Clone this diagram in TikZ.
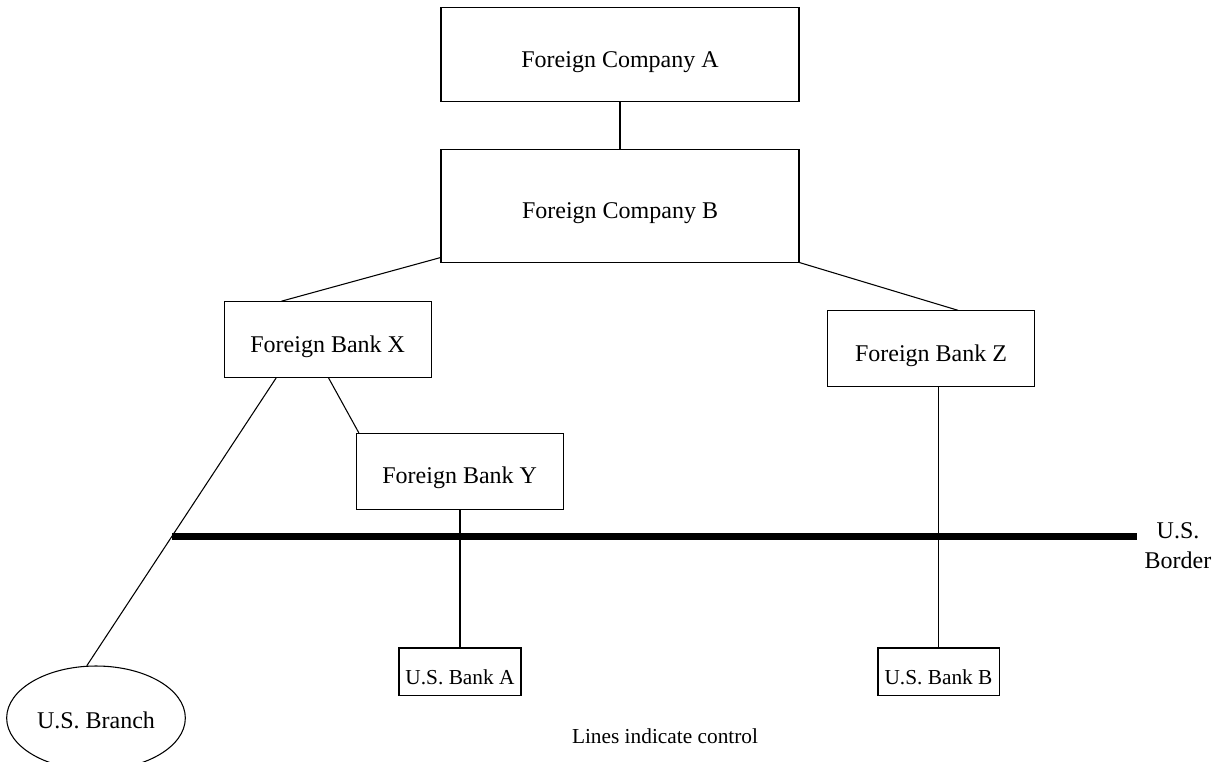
\documentclass[tikz,border=0pt]{standalone}
\usepackage{fontspec}
\setmainfont{Liberation Serif}
\usetikzlibrary{shapes.geometric,calc}

\begin{document}
\begin{tikzpicture}[x=0.75pt,y=-0.75pt,
  link/.style={draw=black,line width=0.8pt},
  entity/.style={draw=black,line width=0.8pt,rectangle,inner sep=0pt,
    font=\fontsize{18}{21.6}\selectfont,text height=19pt,text depth=0pt},
  usbank/.style={entity,font=\fontsize{16}{19.2}\selectfont},
  branchnode/.style={draw=black,line width=0.8pt,ellipse,inner sep=0pt,
    font=\fontsize{18}{21.6}\selectfont,text height=15pt,text depth=0pt},
  note/.style={inner sep=0pt,anchor=base}
]
\useasboundingbox (0,0) rectangle (1219,761);
\clip (0,0) rectangle (1219,761);

% ownership chain
\node[entity,minimum width=268.5pt,minimum height=70.9pt] (compA) at (620,54.5) {Foreign Company A};
\node[entity,minimum width=268.5pt,minimum height=84.5pt] (compB) at (620,205.7) {Foreign Company B};
\node[entity,minimum width=155.5pt,minimum height=56.7pt] (bankX) at (327.7,339.5) {Foreign Bank X};
\node[entity,minimum width=155.5pt,minimum height=57pt] (bankY) at (459.7,471.3) {Foreign Bank Y};
\node[entity,minimum width=155.8pt,minimum height=56.8pt] (bankZ) at (931,348.8) {Foreign Bank Z};
\node[usbank,minimum width=91.5pt,minimum height=35.3pt] (usA) at (460,671.5) {U.S. Bank A};
\node[usbank,minimum width=90.8pt,minimum height=35.3pt] (usB) at (938.5,671.5) {U.S. Bank B};
\node[branchnode,minimum width=134pt,minimum height=78pt] (branch) at (96,718) {U.S. Branch};

% control lines
\draw[link] (compA) -- (compB);
\draw[link] ($(compB.south west)+(0,-5)$) -- ($(bankX.north west)+(58,0)$);
\draw[link] (compB.south east) -- ($(bankZ.north west)+(131.7,0)$);
\draw[link] ($(bankX.south west)+(105,0)$) -- ($(bankY.north west)+(3.3,0)$);
\draw[link] ($(bankX.south west)+(52.7,0)$) -- (branch.100);
\draw[link] (bankY.south -| usA.north) -- (usA.north);
\draw[link] (bankZ.south -| usB.north) -- (usB.north);

% border
\coordinate (borderL) at (172.3,536.5);
\coordinate (borderR) at (1137.3,536.5);
\draw[line width=5.3pt] (borderL) -- (borderR);
\node[note,font=\fontsize{18}{21.6}\selectfont] (usLbl) at (1178,538) {U.S.};
\node[note,font=\fontsize{18}{21.6}\selectfont] (borderLbl) at (1178,568) {Border};

% legend
\node[note,font=\fontsize{16}{19.2}\selectfont] (legend) at (665,743) {Lines indicate control};
\end{tikzpicture}
\end{document}
